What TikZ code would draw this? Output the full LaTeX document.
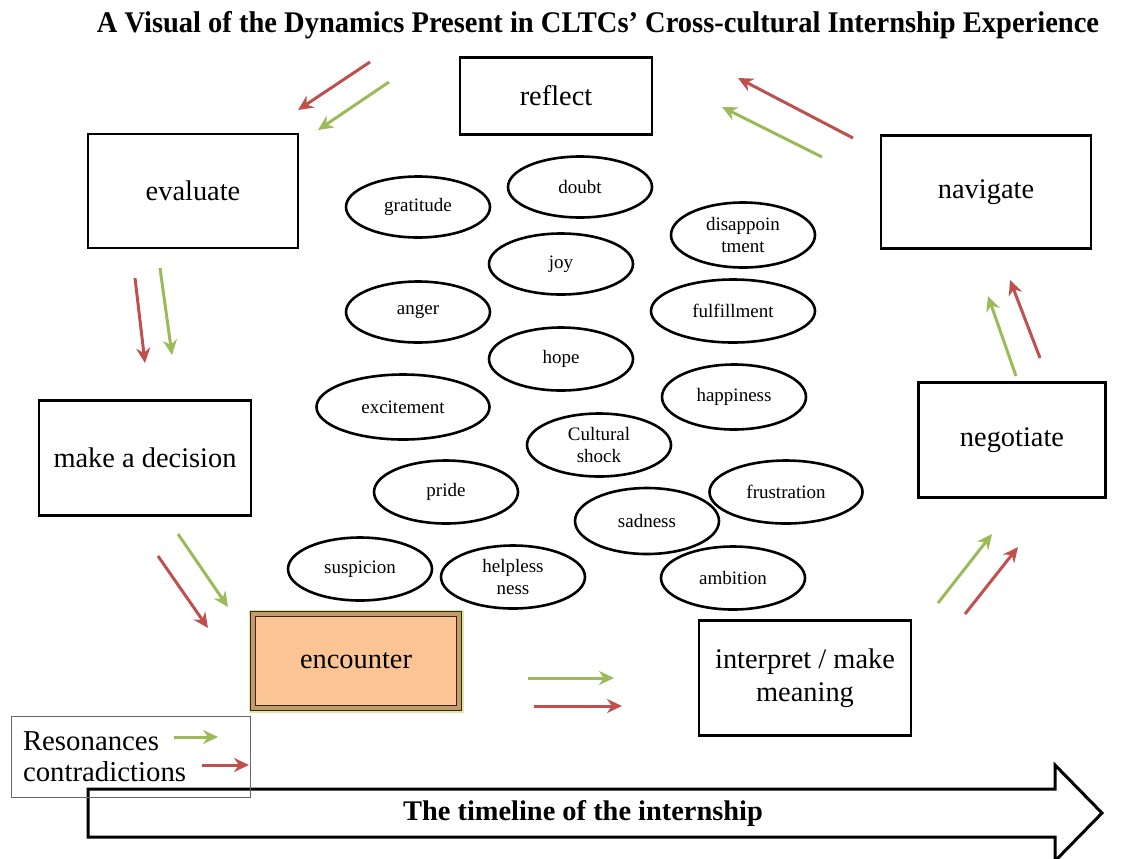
\documentclass[tikz,border=0pt]{standalone}
\usepackage{fontspec}
\setmainfont{Liberation Serif}
\usetikzlibrary{shapes.geometric,arrows.meta,positioning}
\definecolor{cR}{HTML}{C0504D}
\definecolor{cG}{HTML}{9BBB59}
\definecolor{cPeach}{HTML}{FBC495}
\definecolor{cRim}{HTML}{C39A6B}
\definecolor{cGlow}{HTML}{D6EBA6}
\tikzset{mybox/.style={
  shape=rectangle,
  draw=black,
  line width=1.2pt,
  align=center,
  font=\fontsize{14.2}{16.5}\selectfont,
  }
}
\tikzset{myfeel/.style={
  shape=ellipse,
  draw=black,
  line width=1.3pt,
  minimum width=72pt,
  minimum height=30.5pt,
  inner sep=0pt,
  align=center,
  font=\fontsize{9.5}{11}\selectfont,
  }
}
\tikzset{myres/.style={
  draw=cG,
  line width=1.5pt,
  -{Stealth[length=7.5pt,width=7pt]},
  }
}
\tikzset{mycon/.style={
  draw=cR,
  line width=1.5pt,
  -{Stealth[length=7.5pt,width=7pt]},
  }
}

\begin{document}
\begin{tikzpicture}[x=0.5pt,y=-0.5pt]
  \useasboundingbox (0,0) rectangle (1133,858);

  \node [font=\bfseries\fontsize{15}{18}\selectfont] (title) at (598,25)
    {\scalebox{0.95}[1]{A Visual of the Dynamics Present in CLTCs’ Cross-cultural Internship Experience}};

  % the steps of the cycle
  \node [mybox, minimum width=96pt, minimum height=38.5pt] (reflect) at (556,96) {reflect};
  \node [mybox, minimum width=105pt, minimum height=57pt] (evaluate) at (193,191) {evaluate};
  \node [mybox, minimum width=105pt, minimum height=56.5pt] (navigate) at (986,192) {navigate};
  \node [mybox, minimum width=106pt, minimum height=57.5pt] (decision) at (145,458) {make a decision};
  \node [mybox, minimum width=93.5pt, minimum height=57.5pt] (negotiate) at (1012,440) {negotiate};
  \node [mybox, minimum width=106pt, minimum height=57.5pt] (interpret) at (805,678) {interpret / make\\meaning};
  \node [mybox, minimum width=103pt, minimum height=47pt, fill=cPeach,
         preaction={draw=cGlow, line width=4.5pt},
         draw=black!70!brown, line width=0.6pt, double=cRim, double distance=1.6pt] (encounter) at (356,661) {encounter};

  % the feelings
  \node [myfeel] (gratitude) at (418,207) {gratitude};
  \node [myfeel] (doubt) at (580,187) {doubt};
  \node [myfeel, minimum height=32.5pt] (disappoint) at (743,235) {disappoin\\tment};
  \node [myfeel] (joy) at (561,264) {joy};
  \node [myfeel] (anger) at (418,312) {anger};
  \node [myfeel, minimum width=82pt, minimum height=31.5pt] (fulfil) at (733,311) {fulfillment};
  \node [myfeel, minimum height=31.5pt] (hope) at (561,359) {hope};
  \node [myfeel, minimum width=86.5pt, minimum height=32.5pt] (excite) at (403,407) {excitement};
  \node [myfeel, minimum height=32.5pt] (happy) at (734,397) {happiness};
  \node [myfeel, minimum height=31.5pt] (shock) at (599,445) {Cultural\\shock};
  \node [myfeel, minimum height=31.5pt] (pride) at (446,492) {pride};
  \node [myfeel, minimum width=76.5pt, minimum height=31.5pt] (frustr) at (786,492) {frustration};
  \node [myfeel, minimum height=33pt] (sadness) at (647,521) {sadness};
  \node [myfeel, minimum height=31.5pt] (suspicion) at (360,569) {suspicion};
  \node [myfeel, minimum height=31.5pt] (helpless) at (513,577) {helpless\\ness};
  \node [myfeel, minimum height=31.5pt] (ambition) at (733,578) {ambition};

  % arrow ends between the steps
  \coordinate (rRE1) at (370,62);   \coordinate (rRE2) at (298,110);
  \coordinate (gRE1) at (389,82);   \coordinate (gRE2) at (318,130);
  \coordinate (rED1) at (135,278);  \coordinate (rED2) at (145,363);
  \coordinate (gED1) at (160,268);  \coordinate (gED2) at (172,355);
  \coordinate (gDE1) at (178,534);  \coordinate (gDE2) at (228,607);
  \coordinate (rDE1) at (158,556);  \coordinate (rDE2) at (208,628);
  \coordinate (gEI1) at (528,678);  \coordinate (gEI2) at (614,678);
  \coordinate (rEI1) at (534,706);  \coordinate (rEI2) at (622,706);
  \coordinate (gIN1) at (938,603);  \coordinate (gIN2) at (992,534);
  \coordinate (rIN1) at (965,614);  \coordinate (rIN2) at (1018,547);
  \coordinate (gNN1) at (1016,376); \coordinate (gNN2) at (988,296);
  \coordinate (rNN1) at (1040,358); \coordinate (rNN2) at (1010,280);
  \coordinate (rNR1) at (853,138);  \coordinate (rNR2) at (738,78);
  \coordinate (gNR1) at (822,157);  \coordinate (gNR2) at (722,107);

  \draw [mycon] (rRE1) -- (rRE2);
  \draw [myres] (gRE1) -- (gRE2);
  \draw [mycon] (rED1) -- (rED2);
  \draw [myres] (gED1) -- (gED2);
  \draw [myres] (gDE1) -- (gDE2);
  \draw [mycon] (rDE1) -- (rDE2);
  \draw [myres] (gEI1) -- (gEI2);
  \draw [mycon] (rEI1) -- (rEI2);
  \draw [myres] (gIN1) -- (gIN2);
  \draw [mycon] (rIN1) -- (rIN2);
  \draw [myres] (gNN1) -- (gNN2);
  \draw [mycon] (rNN1) -- (rNN2);
  \draw [mycon] (rNR1) -- (rNR2);
  \draw [myres] (gNR1) -- (gNR2);

  % timeline
  \draw [line width=1.5pt, line join=miter] (88,789) -- (1055,789) -- (1055,765) -- (1102,813)
    -- (1055,861) -- (1055,837) -- (88,837) -- cycle;
  \node [font=\bfseries\fontsize{14.2}{17}\selectfont] (timeline) at (583,814) {The timeline of the internship};

  % legend
  \node [draw=black!60, line width=0.5pt, minimum width=119.5pt, minimum height=40.5pt,
         align=left, text width=107.5pt, inner xsep=6pt,
         font=\fontsize{14.4}{15.5}\selectfont] (legend) at (130.5,756.5) {Resonances\\contradictions};
  \coordinate (gL1) at (174,737); \coordinate (gL2) at (218,737);
  \coordinate (rL1) at (202,765); \coordinate (rL2) at (249,765);
  \draw [myres] (gL1) -- (gL2);
  \draw [mycon] (rL1) -- (rL2);
\end{tikzpicture}
\end{document}
